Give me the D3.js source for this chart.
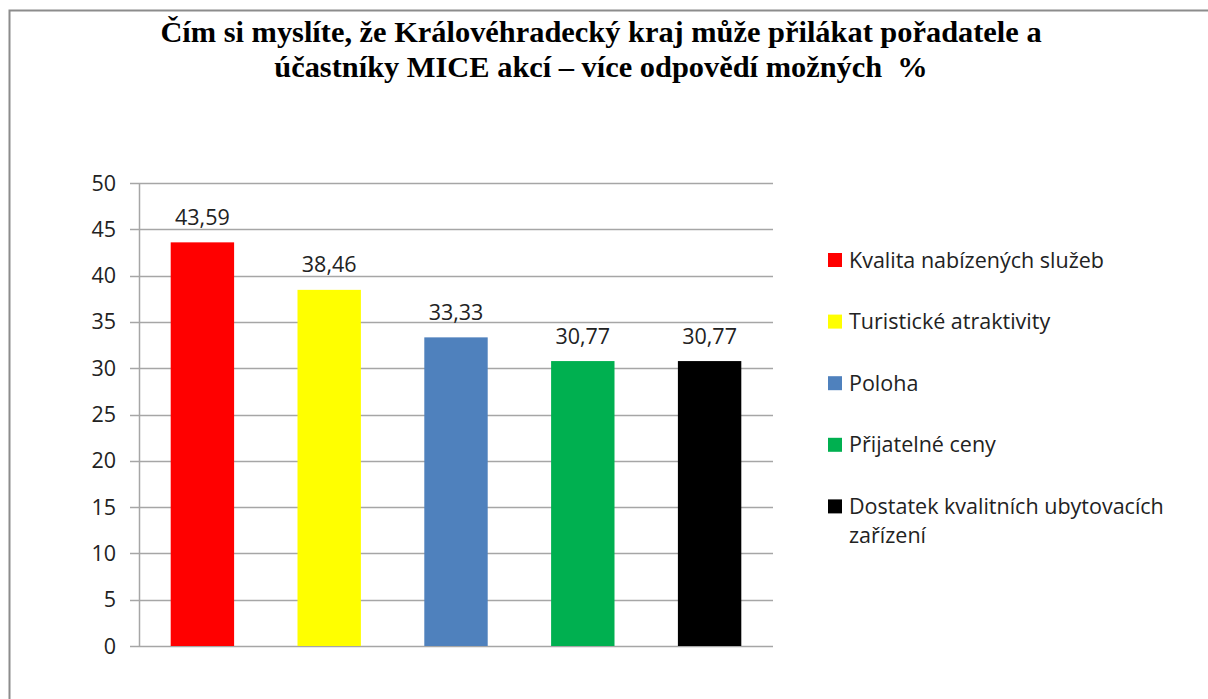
<!DOCTYPE html>
<html>
<head>
<meta charset="utf-8">
<script src="https://cdn.jsdelivr.net/npm/d3@7"></script>
<style>
  body { margin: 0; background: #fff; }
  svg { display: block; }
</style>
</head>
<body>
<div id="chart"></div>
<script>
var categories = ["Kvalita nabízených služeb", "Turistické atraktivity", "Poloha", "Přijatelné ceny", "Dostatek kvalitních ubytovacích zařízení"];
var values = [43.59, 38.46, 33.33, 30.77, 30.77];
var colors = ["#ff0000", "#ffff00", "#4f81bd", "#00b050", "#000000"];
var yTicks = [0, 5, 10, 15, 20, 25, 30, 35, 40, 45, 50];
var titleLines = ["Čím si myslíte, že Královéhradecký kraj může přilákat pořadatele a",
  "účastníky MICE akcí – více odpovědí možných  %"];

var width = 1208, height = 699;
var svg = d3.select("#chart").append("svg").attr("width", width).attr("height", height);

// outer frame (cut off at right and bottom like the screenshot)
svg.append("rect").attr("x", 9.5).attr("y", 10.5).attr("width", 1250).attr("height", 800)
  .attr("fill", "none").attr("stroke", "#8c8c8c").attr("stroke-width", 2);

svg.selectAll(".title").data(titleLines).enter().append("text")
  .attr("x", 601).attr("y", function(d, i) { return 42 + i * 35; })
  .attr("text-anchor", "middle")
  .style("font-family", "'Liberation Serif', 'Times New Roman', serif")
  .style("font-weight", "bold").style("font-size", "30.4px")
  .style("white-space", "pre")
  .text(function(d) { return d; });

var plotLeft = 139, plotRight = 773, plotTop = 183, plotBottom = 646;

var x = d3.scaleBand().domain(categories).range([plotLeft, plotRight]).paddingInner(0.5).paddingOuter(0.25);
var y = d3.scaleLinear().domain([0, 50]).range([plotBottom, plotTop]);

var font = "'Open Sans', sans-serif";

// gridlines
svg.append("g").selectAll("line").data(yTicks).enter().append("line")
  .attr("x1", plotLeft - 9).attr("x2", plotRight)
  .attr("y1", function(d) { return Math.round(y(d)) + 0.5; })
  .attr("y2", function(d) { return Math.round(y(d)) + 0.5; })
  .attr("stroke", "#a6a6a6").attr("stroke-width", 1.5);

svg.append("line").attr("x1", plotLeft + 0.5).attr("x2", plotLeft + 0.5).attr("y1", plotTop).attr("y2", plotBottom)
  .attr("stroke", "#a6a6a6").attr("stroke-width", 1.5);

svg.append("g").selectAll("text").data(yTicks).enter().append("text")
  .attr("x", plotLeft - 23).attr("y", function(d) { return y(d); })
  .attr("dy", "0.35em").attr("text-anchor", "end")
  .style("font-family", font).style("font-size", "21.5px").attr("fill", "#222")
  .text(function(d) { return d; });

// bars
svg.append("g").selectAll("rect").data(values).enter().append("rect")
  .attr("x", function(d, i) { return x(categories[i]); })
  .attr("width", x.bandwidth())
  .attr("y", function(d) { return y(d); })
  .attr("height", function(d) { return y(0) - y(d); })
  .attr("fill", function(d, i) { return colors[i]; });

svg.append("g").selectAll("text").data(values).enter().append("text")
  .attr("x", function(d, i) { return x(categories[i]) + x.bandwidth() / 2; })
  .attr("y", function(d) { return y(d) - 17.5; })
  .attr("text-anchor", "middle")
  .style("font-family", font).style("font-size", "21.5px").attr("fill", "#222")
  .text(function(d) { return d.toFixed(2).replace(".", ","); });

// legend
var legend = svg.append("g").selectAll("g").data(categories).enter().append("g")
  .attr("transform", function(d, i) { return "translate(828," + (260 + i * 61.6) + ")"; });

legend.append("rect").attr("x", 0).attr("y", -7).attr("width", 14).attr("height", 14)
  .attr("fill", function(d, i) { return colors[i]; });

legend.append("text")
  .style("font-family", font).style("font-size", "21.5px").attr("fill", "#222")
  .each(function(d) {
    var t = d3.select(this);
    var parts = d == "Dostatek kvalitních ubytovacích zařízení" ? ["Dostatek kvalitních ubytovacích", "zařízení"] : [d];
    parts.forEach(function(p, j) {
      t.append("tspan").attr("x", 21).attr("dy", j == 0 ? "0.35em" : "1.35em").text(p);
    });
  });
</script>
</body>
</html>
